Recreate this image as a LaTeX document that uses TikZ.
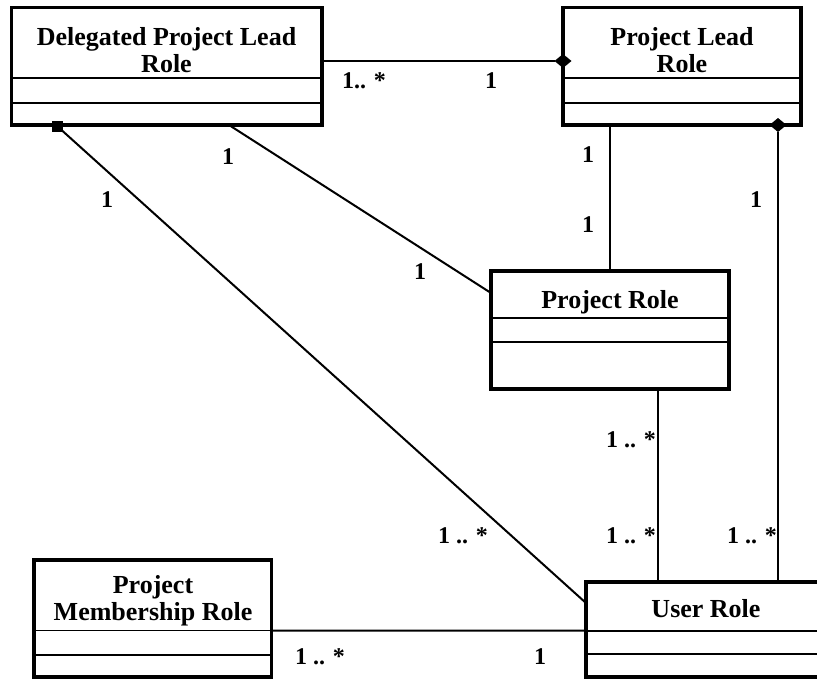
\documentclass[tikz,border=0pt]{standalone}
\usepackage{fontspec}
\setmainfont{Liberation Serif}
\usetikzlibrary{calc,shapes.geometric}
\begin{document}
\begin{tikzpicture}[x=1pt,y=-1pt,
  classbox/.style={draw,line width=3.7pt,inner sep=0pt,outer sep=0pt,anchor=north west},
  title/.style={font=\fontsize{26}{27}\selectfont\bfseries,align=center,inner sep=0pt,anchor=base},
  mult/.style={font=\fontsize{24}{26}\selectfont\bfseries,inner sep=0pt},
  link/.style={line width=2pt},
  part/.style={line width=1.7pt},
  agg/.style={diamond,fill=black,inner sep=0pt,outer sep=0pt,minimum width=17pt,minimum height=14pt},
  owner/.style={rectangle,fill=black,inner sep=0pt,outer sep=0pt,minimum size=11pt}]
\useasboundingbox (0,0) rectangle (817,678);
\fill[white] (0,0) rectangle (817,678);
\clip (0,0) rectangle (817,678);

% class boxes
\node[classbox,minimum width=310.5pt,minimum height=117.5pt] (dpl) at (11.5,7.5) {};
\node[classbox,minimum width=238pt,minimum height=117.5pt] (pl) at (563,7.5) {};
\node[classbox,minimum width=238pt,minimum height=118pt] (pr) at (491,271) {};
\node[classbox,minimum width=237.5pt,minimum height=117pt] (pmr) at (34,560) {};
\node[classbox,minimum width=240pt,minimum height=95pt] (ur) at (586,582) {};

% compartment separators
\draw[part] ($(dpl.north west)+(0,70.8)$) -- ($(dpl.north east)+(0,70.8)$);
\draw[part] ($(dpl.north west)+(0,95.2)$) -- ($(dpl.north east)+(0,95.2)$);
\draw[part] ($(pl.north west)+(0,70.8)$) -- ($(pl.north east)+(0,70.8)$);
\draw[part] ($(pl.north west)+(0,95.2)$) -- ($(pl.north east)+(0,95.2)$);
\draw[part] ($(pr.north west)+(0,47.3)$) -- ($(pr.north east)+(0,47.3)$);
\draw[part] ($(pr.north west)+(0,70.7)$) -- ($(pr.north east)+(0,70.7)$);
\draw[part] ($(pmr.north west)+(0,70.5)$) -- ($(pmr.north east)+(0,70.5)$);
\draw[part] ($(pmr.north west)+(0,95)$) -- ($(pmr.north east)+(0,95)$);
\draw[part] ($(ur.north west)+(0,48.7)$) -- ($(ur.north east)+(0,48.7)$);
\draw[part] ($(ur.north west)+(0,72.3)$) -- ($(ur.north east)+(0,72.3)$);

% class names (base = baseline of the last line)
\node[title] (dplt) at (166.5,72) {Delegated Project Lead\\Role};
\node[title] (plt) at (682,72) {Project Lead\\Role};
\node[title] (prt) at (610,308) {Project Role};
\node[title] (pmrt) at (153,620) {Project\\Membership Role};
\node[title] (urt) at (706,617) {User Role};

% association ends
\node[agg] (pld) at (563,61) {};
\node[agg] (pldb) at (778,125) {};
\node[owner] (dpls) at (57,126) {};
\coordinate (dplb) at (229,125);
\coordinate (prb) at (658,389);

% associations
\draw[link] (dpl.east |- pld) -- (pld);
\draw[link] (pr.north) -- (pr.north |- pl.south);
\draw[link] (pldb) -- (pldb |- ur.north);
\draw[link] (prb) -- (prb |- ur.north);
\draw[link] (dplb) -- ($(pr.north west)+(0,22)$);
\draw[link] (dpls) -- ($(ur.north west)+(0,21)$);
\draw[link] ($(pmr.north east)+(0,70.5)$) -- ($(ur.north west)+(0,48.7)$);

% multiplicities
\node[mult] (m1) at (364,81) {1.. *};
\node[mult] (m2) at (491,81) {1};
\node[mult] (m3) at (228,157) {1};
\node[mult] (m4) at (107,200) {1};
\node[mult] (m5) at (420,272) {1};
\node[mult] (m6) at (588,155) {1};
\node[mult] (m7) at (588,225) {1};
\node[mult] (m8) at (756,200) {1};
\node[mult] (m9) at (631,440) {1 .. *};
\node[mult] (m10) at (631,536) {1 .. *};
\node[mult] (m11) at (752,536) {1 .. *};
\node[mult] (m12) at (463,536) {1 .. *};
\node[mult] (m13) at (320,657) {1 .. *};
\node[mult] (m14) at (540,657) {1};
\end{tikzpicture}
\end{document}
